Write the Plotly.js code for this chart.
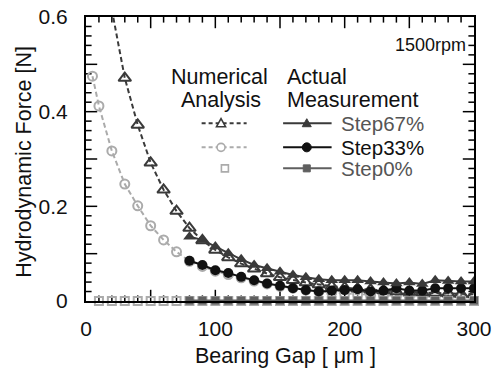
<!DOCTYPE html>
<html>
<head>
<meta charset="utf-8">
<script src="https://cdn.plot.ly/plotly-3.0.1.min.js"></script>
<style>html,body{margin:0;padding:0;background:#fff;}#chart{width:492px;height:373px;}</style>
</head>
<body>
<div id="chart"></div>
<script>
// ---- Data ----
const numX67 = [20, 30, 40, 50, 60, 70, 80, 90, 100, 110, 120, 130, 140, 150, 160, 170, 180, 190, 200, 210, 220, 230, 240, 250, 260, 270, 280, 290, 300];
const numY67 = [0.615, 0.471, 0.372, 0.292, 0.235, 0.190, 0.154, 0.128, 0.108, 0.092, 0.079, 0.068, 0.058, 0.050, 0.044, 0.039, 0.035, 0.031, 0.028, 0.026, 0.024, 0.022, 0.020, 0.019, 0.018, 0.017, 0.016, 0.015, 0.014];
const numX33 = [5, 10, 20, 30, 40, 50, 60, 70, 80, 90, 100, 110, 120, 130, 140, 150, 160, 170, 180, 190, 200, 210, 220, 230, 240, 250, 260, 270, 280, 290, 300];
const numY33 = [0.475, 0.412, 0.317, 0.247, 0.201, 0.159, 0.129, 0.104, 0.084, 0.073, 0.063, 0.056, 0.049, 0.042, 0.036, 0.031, 0.027, 0.023, 0.020, 0.018, 0.016, 0.014, 0.013, 0.012, 0.011, 0.010, 0.009, 0.009, 0.008, 0.008, 0.007];
const numX0 = [10, 20, 30, 40, 50, 60, 70, 80, 90, 100, 110, 120, 130, 140, 150, 160, 170, 180, 190, 200, 210, 220, 230, 240, 250, 260, 270, 280, 290, 300];
const numY0 = [0, 0, 0, 0, 0, 0, 0, 0, 0, 0, 0, 0, 0, 0, 0, 0, 0, 0, 0, 0, 0, 0, 0, 0, 0, 0, 0, 0, 0, 0];

const actX = [80, 90, 100, 110, 120, 130, 140, 150, 160, 170, 180, 190, 200, 210, 220, 230, 240, 250, 260, 270, 280, 290, 300];
const actY67 = [0.136, 0.129, 0.115, 0.101, 0.088, 0.076, 0.069, 0.062, 0.055, 0.050, 0.046, 0.044, 0.044, 0.044, 0.041, 0.039, 0.037, 0.039, 0.036, 0.044, 0.042, 0.041, 0.041];
const actY33 = [0.085, 0.076, 0.065, 0.059, 0.051, 0.044, 0.037, 0.032, 0.027, 0.023, 0.020, 0.022, 0.023, 0.025, 0.020, 0.022, 0.027, 0.022, 0.022, 0.027, 0.027, 0.027, 0.027];
const actY0 = [0.001, 0.001, 0.001, 0.001, 0.001, 0.001, 0.001, 0.001, 0.001, 0.001, 0.001, 0.001, 0.001, 0.001, 0.001, 0.001, 0.001, 0.001, 0.001, 0.001, 0.001, 0.001, 0.001];

const seriesNames = ['Step67%', 'Step33%', 'Step0%'];

// ---- Axis ranges and tick spacing ----
const X_MAX = 300, X_MINOR = 10, Y_MAX = 0.6, Y_MINOR = 0.02;

// ---- Styling ----
const C67 = '#3a3a3a', C33 = '#111111', C0 = '#5f5f5f', CLIGHT = '#ababab';
const FONT = 'Liberation Sans, Arial, sans-serif';
const DASH = '5px,3px';

// ---- Inside tick marks (axis decoration): line markers on the frame, clipped to the plot area ----
const xMinorT = [], xMajorT = [], yMinorT = [], yMajorT = [];
for (let i = 1; i < Math.round(X_MAX / X_MINOR); i++) { (i % 5 === 0 ? xMajorT : xMinorT).push(i * X_MINOR); }
for (let i = 1; i < Math.round(Y_MAX / Y_MINOR); i++) { (i % 5 === 0 ? yMajorT : yMinorT).push(+(i * Y_MINOR).toFixed(3)); }
function tickTrace(xs, ys, sym, size) {
  return {x: xs, y: ys, mode: 'markers', hoverinfo: 'skip', cliponaxis: true,
          marker: {symbol: sym, size: size, color: '#000', line: {width: 1.5, color: '#000'}}};
}
const tickTraces = [
  tickTrace(xMinorT, xMinorT.map(() => 0), 'line-ns', 8),
  tickTrace(xMajorT, xMajorT.map(() => 0), 'line-ns', 16),
  tickTrace(xMinorT, xMinorT.map(() => Y_MAX), 'line-ns', 8),
  tickTrace(xMajorT, xMajorT.map(() => Y_MAX), 'line-ns', 16),
  tickTrace(yMinorT.map(() => 0), yMinorT, 'line-ew', 8),
  tickTrace(yMajorT.map(() => 0), yMajorT, 'line-ew', 16),
  tickTrace(yMinorT.map(() => X_MAX), yMinorT, 'line-ew', 8),
  tickTrace(yMajorT.map(() => X_MAX), yMajorT, 'line-ew', 16)
];

const traces = [
  {x: numX33, y: numY33, mode: 'lines+markers', line: {color: CLIGHT, dash: DASH, width: 2},
   marker: {symbol: 'circle-open', size: 9, color: CLIGHT, line: {width: 2, color: CLIGHT}}},
  {x: numX67, y: numY67, mode: 'lines+markers', line: {color: C67, dash: DASH, width: 2},
   marker: {symbol: 'triangle-up-open', size: 11, color: C67, line: {width: 2, color: C67}}},
  {x: numX0, y: numY0, mode: 'markers', cliponaxis: false,
   marker: {symbol: 'square-open', size: 8, color: CLIGHT, line: {width: 2, color: CLIGHT}}},
  {x: actX, y: actY0, mode: 'lines+markers', cliponaxis: false, line: {color: C0, width: 2},
   marker: {symbol: 'square', size: 8, color: C0}},
  {x: actX, y: actY33, mode: 'lines+markers', line: {color: C33, width: 2},
   marker: {symbol: 'circle', size: 10, color: C33}},
  {x: actX, y: actY67, mode: 'lines+markers', line: {color: C67, width: 2},
   marker: {symbol: 'triangle-up', size: 11, color: C67}}
];

const shapes = [];

// ---- Legend (paper coords; sample symbols as pixel-sized shapes) ----
const L = {
  x0: 0.298, x1: 0.414, xm: 0.348, xsq: 0.358,
  a0: 0.508, a1: 0.633, am: 0.569,
  rows: [0.626, 0.541, 0.467]
};
function pxPath(xa, ya, path, fill, lineColor, lw) {
  return {type: 'path', xref: 'paper', yref: 'paper', xsizemode: 'pixel', ysizemode: 'pixel',
          xanchor: xa, yanchor: ya, path: path, fillcolor: fill, line: {color: lineColor, width: lw}, layer: 'above'};
}
function pxCircle(xa, ya, r, fill, lineColor, lw) {
  return {type: 'circle', xref: 'paper', yref: 'paper', xsizemode: 'pixel', ysizemode: 'pixel',
          xanchor: xa, yanchor: ya, x0: -r, x1: r, y0: -r, y1: r, fillcolor: fill, line: {color: lineColor, width: lw}, layer: 'above'};
}
const TRI = 'M -4.5 -3.5 L 4.5 -3.5 L 0 4.5 Z';
const SQ = 'M -3.5 -3.5 L 3.5 -3.5 L 3.5 3.5 L -3.5 3.5 Z';
const numLeg = [{c: C67, p: TRI, line: true}, {c: CLIGHT, p: null, line: true}, {c: CLIGHT, p: SQ, line: false}];
const actLeg = [{c: C67, p: TRI}, {c: C33, p: null}, {c: C0, p: SQ}];
L.rows.forEach((ry, i) => {
  const n = numLeg[i];
  if (n.line) {
    shapes.push({type: 'line', xref: 'paper', yref: 'paper', x0: L.x0, x1: L.x1, y0: ry, y1: ry,
                 line: {color: n.c, width: 2, dash: '4px,3px'}});
  }
  const nx = n.line ? L.xm : L.xsq;
  shapes.push(n.p ? pxPath(nx, ry, n.p, '#ffffff', n.c, 1.6) : pxCircle(nx, ry, 4, '#ffffff', n.c, 1.6));
  const a = actLeg[i];
  shapes.push({type: 'line', xref: 'paper', yref: 'paper', x0: L.a0, x1: L.a1, y0: ry, y1: ry,
               line: {color: a.c, width: 2}});
  shapes.push(a.p ? pxPath(L.am, ry, a.p, a.c, a.c, 1) : pxCircle(L.am, ry, 4.5, a.c, a.c, 1));
});

const labelColors = ['#555555', '#111111', '#555555'];
const TF = {size: 21.5, color: '#111'};
const annotations = [
  {xref: 'paper', yref: 'paper', x: 0.345, y: 0.79, text: 'Numerical', showarrow: false, xanchor: 'center', yanchor: 'middle', font: TF},
  {xref: 'paper', yref: 'paper', x: 0.347, y: 0.708, text: 'Analysis', showarrow: false, xanchor: 'center', yanchor: 'middle', font: TF},
  {xref: 'paper', yref: 'paper', x: 0.513, y: 0.79, text: 'Actual', showarrow: false, xanchor: 'left', yanchor: 'middle', font: TF},
  {xref: 'paper', yref: 'paper', x: 0.513, y: 0.708, text: 'Measurement', showarrow: false, xanchor: 'left', yanchor: 'middle', font: TF},
  {xref: 'paper', yref: 'paper', x: 0.985, y: 0.901, text: '1500rpm', showarrow: false, xanchor: 'right', yanchor: 'middle', font: {size: 18, color: '#111'}},
  {xref: 'paper', yref: 'paper', x: -0.160, y: 0.49, text: 'Hydrodynamic Force [N]', textangle: -90, showarrow: false, xanchor: 'center', yanchor: 'middle', font: TF},
  {xref: 'paper', yref: 'paper', x: 0.515, y: -0.194, text: 'Bearing Gap [ \u03bcm ]', showarrow: false, xanchor: 'center', yanchor: 'middle', font: TF}
];
seriesNames.forEach((n, i) => {
  annotations.push({xref: 'paper', yref: 'paper', x: 0.652, y: L.rows[i], text: n, showarrow: false,
    xanchor: 'left', yanchor: 'middle', font: {size: 20.5, color: labelColors[i]}});
});

const layout = {
  width: 492, height: 373,
  margin: {l: 86, r: 18, t: 17, b: 72},
  paper_bgcolor: '#ffffff', plot_bgcolor: '#ffffff',
  showlegend: false,
  font: {family: FONT, size: 21, color: '#111'},
  xaxis: {
    range: [0, X_MAX], tickmode: 'linear', tick0: 0, dtick: 100, ticks: '',
    showline: true, linewidth: 2, linecolor: '#000', mirror: true,
    showgrid: false, zeroline: false, ticklabelstandoff: 8,
    tickfont: {size: 21, color: '#111'}
  },
  yaxis: {
    range: [0, Y_MAX], tickmode: 'linear', tick0: 0, dtick: 0.2, ticks: '',
    showline: true, linewidth: 2, linecolor: '#000', mirror: true,
    showgrid: false, zeroline: false, ticklabelstandoff: 12,
    tickfont: {size: 21, color: '#111'}
  },
  shapes: shapes,
  annotations: annotations
};

Plotly.newPlot('chart', tickTraces.concat(traces), layout, {displayModeBar: false, staticPlot: true});
</script>
</body>
</html>
